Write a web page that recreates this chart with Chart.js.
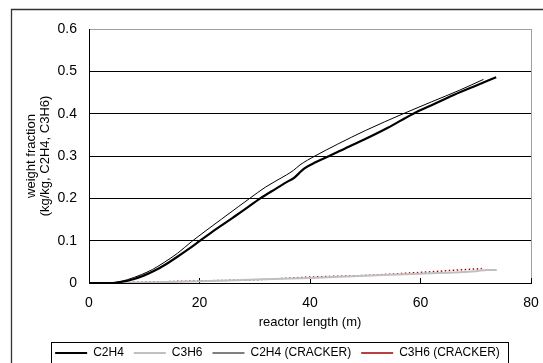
<!DOCTYPE html>
<html>
<head>
<meta charset="utf-8">
<script src="https://cdn.jsdelivr.net/npm/chart.js@4.4.0/dist/chart.umd.min.js"></script>
<style>
  html, body { margin: 0; padding: 0; background: #fff; overflow: hidden; }
  #wrap { position: relative; width: 543px; height: 369px; }
</style>
</head>
<body>
<div id="wrap"><canvas id="myChart"></canvas></div>
<script>
// reactor length (m) / weight fraction
const c2h4X = [0, 4, 6, 8, 10, 12, 14, 16, 18, 20, 22, 24, 26, 28, 31, 34, 36, 37, 38, 39, 41, 43.5, 47, 50, 54, 58.7, 62, 66, 70, 73.7];
const c2h4Y = [0, 0, 0.003, 0.009, 0.018, 0.030, 0.045, 0.062, 0.080, 0.099, 0.118, 0.136, 0.154, 0.172, 0.200, 0.224, 0.240, 0.247, 0.259, 0.271, 0.285, 0.300, 0.322, 0.340, 0.366, 0.400, 0.420, 0.444, 0.466, 0.486];

const c3h6X = [0, 10, 20, 30, 40, 50, 60, 70, 72, 73.8];
const c3h6Y = [0, 0.001, 0.004, 0.008, 0.012, 0.017, 0.022, 0.028, 0.031, 0.031];

const crackerC2h4X = [0, 3.5, 5, 7, 9.5, 11.5, 13.4, 16, 18.5, 21, 24, 27, 29.1, 32, 35.7, 37, 38.2, 40.9, 45, 50, 56.9, 62, 67, 71.4];
const crackerC2h4Y = [0, 0, 0.002, 0.008, 0.020, 0.032, 0.047, 0.070, 0.097, 0.122, 0.151, 0.180, 0.200, 0.227, 0.255, 0.266, 0.279, 0.300, 0.328, 0.360, 0.400, 0.428, 0.455, 0.481];

const crackerC3h6X = [0, 10, 16.4, 20, 30.9, 40, 50, 60, 66, 71.1];
const crackerC3h6Y = [0, 0.002, 0.004, 0.005, 0.008, 0.014, 0.018, 0.025, 0.030, 0.034];

const seriesNames = ['C2H4', 'C3H6', 'C2H4 (CRACKER)', 'C3H6 (CRACKER)'];
const xTicks = [0, 20, 40, 60, 80];
const yTicks = [0, 0.1, 0.2, 0.3, 0.4, 0.5, 0.6];

function toPoints(xs, ys) {
    return xs.map((x, i) => ({ x: x, y: ys[i] }));
}

// marco exterior y recuadro de la leyenda
const framePlugin = {
    id: 'frame',
    afterLayout(chart) {
        chart.legend.left += 6;
        chart.legend.right += 6;
    },
    afterDraw(chart) {
        const ctx = chart.ctx;
        const hb = chart.legend.legendHitBoxes;
        ctx.save();
        ctx.strokeStyle = '#333';
        ctx.lineWidth = 1.3;
        ctx.beginPath();
        ctx.moveTo(11.5, chart.height + 5);
        ctx.lineTo(11.5, 9.5);
        ctx.lineTo(chart.width + 5, 9.5);
        ctx.stroke();

        if (hb && hb.length) {
            const last = hb[hb.length - 1];
            const x1 = Math.round(hb[0].left - 4) + 0.5;
            const x2 = Math.round(last.left + last.width + 8) + 0.5;
            const y1 = Math.round(hb[0].top - 5) + 0.5;
            ctx.strokeStyle = '#000';
            ctx.lineWidth = 1;
            ctx.strokeRect(x1, y1, x2 - x1, 60);
        }
        ctx.restore();
    }
};

const ctx = document.getElementById('myChart');

new Chart(ctx, {
    type: 'line',
    data: {
        datasets: [{
            label: seriesNames[0],
            data: toPoints(c2h4X, c2h4Y),
            borderColor: '#000',
            backgroundColor: '#000',
            borderWidth: 2.2,
        }, {
            label: seriesNames[1],
            data: toPoints(c3h6X, c3h6Y),
            borderColor: '#c0c0c0',
            backgroundColor: '#c0c0c0',
            borderWidth: 2,
        }, {
            label: seriesNames[2],
            data: toPoints(crackerC2h4X, crackerC2h4Y),
            borderColor: '#000',
            backgroundColor: '#000',
            borderWidth: 1,
        }, {
            label: seriesNames[3],
            data: toPoints(crackerC3h6X, crackerC3h6Y),
            borderColor: '#a00000',
            backgroundColor: '#a00000',
            borderWidth: 1.5,
            borderDash: [1.5, 2.5],
        }]
    },
    options: {
        responsive: true,
        maintainAspectRatio: false,
        animation: false,
        devicePixelRatio: 1,
        elements: {
            point: { radius: 0, hoverRadius: 0 },
            line: { fill: false, cubicInterpolationMode: 'monotone' }
        },
        layout: {
            padding: { top: 29, left: 12, right: 12, bottom: 0 }
        },
        plugins: {
            tooltip: { enabled: false },
            legend: {
                display: true,
                position: 'bottom',
                labels: {
                    usePointStyle: true,
                    pointStyle: 'line',
                    pointStyleWidth: 32,
                    padding: 10,
                    color: '#000',
                    font: { family: 'Liberation Sans, Arial, sans-serif', size: 12 }
                }
            }
        },
        scales: {
            x: {
                type: 'linear',
                min: 0,
                max: 80,
                afterBuildTicks: (scale) => { scale.ticks = xTicks.map(v => ({ value: v })); },
                afterFit: (scale) => {
                    scale.height = 54;
                    scale.paddingLeft = 0;
                    scale.paddingRight = 0;
                },
                border: { color: '#000', width: 1 },
                grid: {
                    drawTicks: true,
                    tickLength: -5,
                    tickColor: '#000',
                    color: (c) => (c.tick && c.tick.value === 80 ? '#a0a0a0' : 'rgba(0,0,0,0)')
                },
                ticks: {
                    padding: 17,
                    color: '#000',
                    font: { family: 'Liberation Sans, Arial, sans-serif', size: 14 }
                },
                title: {
                    display: true,
                    text: 'reactor length (m)',
                    color: '#000',
                    padding: { top: 0, bottom: 7 },
                    font: { family: 'Liberation Sans, Arial, sans-serif', size: 13 }
                }
            },
            y: {
                min: 0,
                max: 0.6,
                afterBuildTicks: (scale) => { scale.ticks = yTicks.map(v => ({ value: v })); },
                afterFit: (scale) => { scale.width = 77; },
                border: { color: '#000', width: 1 },
                grid: {
                    drawTicks: false,
                    color: (c) => (c.tick && c.tick.value === 0.6 ? '#a0a0a0' : '#000')
                },
                ticks: {
                    padding: 12,
                    color: '#000',
                    font: { family: 'Liberation Sans, Arial, sans-serif', size: 14 }
                },
                title: {
                    display: true,
                    text: ['weight fraction', '(kg/kg, C2H4, C3H6)'],
                    color: '#000',
                    padding: { top: 12, bottom: 0 },
                    font: { family: 'Liberation Sans, Arial, sans-serif', size: 13, lineHeight: 1.1 }
                }
            }
        }
    },
    plugins: [framePlugin]
});
</script>
</body>
</html>
